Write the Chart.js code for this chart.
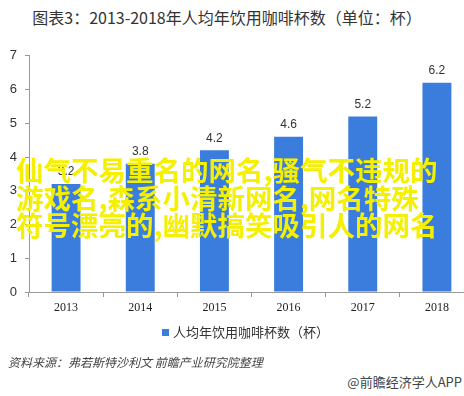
<!DOCTYPE html>
<html lang="zh">
<head>
    <meta charset="UTF-8">
    <title>人均年饮用咖啡杯数</title>
    <script src="https://cdn.jsdelivr.net/npm/chart.js"></script>
    <style>
        body {
            margin: 0;
            padding: 0;
            width: 464px;
            height: 396px;
            overflow: hidden;
            background: #fff;
            position: relative;
            font-family: "Noto Sans CJK SC", sans-serif;
        }
        .title {
            position: absolute;
            top: 5px;
            left: 0;
            width: 454px;
            text-align: center;
            font-size: 16px;
            color: #333;
        }
        #chart-box {
            position: absolute;
            left: 0;
            top: 40px;
            width: 500px;
            height: 310px;
        }
        .legend {
            position: absolute;
            top: 322px;
            left: 162px;
            font-size: 13px;
            color: #333;
        }
        .legend span {
            display: inline-block;
            width: 7px;
            height: 7px;
            background: #3b7ddd;
            margin-right: 4px;
            vertical-align: 1px;
        }
        .source {
            position: absolute;
            top: 353px;
            left: 8px;
            font-size: 12px;
            font-style: italic;
            color: #444;
        }
        .credit {
            position: absolute;
            top: 372px;
            right: 2px;
            font-size: 13px;
            color: #444;
        }
        .overlay {
            position: absolute;
            top: 156px;
            left: 16px;
            width: 448px;
            font-size: 27.5px;
            line-height: 27.5px;
            color: #f4f000;
            font-weight: bold;
            white-space: nowrap;
        }
    </style>
</head>
<body>

    <div class="title">图表3：2013-2018年人均年饮用咖啡杯数（单位：杯）</div>
    <div id="chart-box"><canvas id="coffeeChart"></canvas></div>
    <div class="legend"><span></span>人均年饮用咖啡杯数（杯）</div>
    <div class="source">资料来源：弗若斯特沙利文 前瞻产业研究院整理</div>
    <div class="credit">@前瞻经济学人APP</div>
    <div class="overlay">仙气不易重名的网名,骚气不违规的<br>游戏名,森系小清新网名,网名特殊<br>符号漂亮的,幽默搞笑吸引人的网名</div>

    <script>
        const years = ['2013', '2014', '2015', '2016', '2017', '2018'];
        const cups = [3.2, 3.8, 4.2, 4.6, 5.2, 6.2];
        const yTicks = [0, 1, 2, 3, 4, 5, 6, 7];

        // value labels above each bar
        const barLabels = {
            id: 'barLabels',
            afterDatasetsDraw(chart) {
                const ctx = chart.ctx;
                const meta = chart.getDatasetMeta(0);
                ctx.save();
                ctx.font = '12px "Liberation Sans", Arial, sans-serif';
                ctx.fillStyle = '#333';
                ctx.textAlign = 'center';
                ctx.textBaseline = 'bottom';
                meta.data.forEach((bar, i) => {
                    ctx.fillText(cups[i].toFixed(1), bar.x, bar.y - 6);
                });
                ctx.restore();
            }
        };

        const ctx = document.getElementById('coffeeChart').getContext('2d');
        new Chart(ctx, {
            type: 'bar',
            data: {
                labels: years,
                datasets: [{
                    label: '人均年饮用咖啡杯数（杯）',
                    data: cups,
                    backgroundColor: '#3b7ddd',
                    barPercentage: 0.39,
                    categoryPercentage: 1
                }]
            },
            options: {
                responsive: true,
                maintainAspectRatio: false,
                animation: false,
                layout: { padding: { top: 14, right: 26, bottom: 30, left: 0 } },
                plugins: {
                    legend: { display: false },
                    tooltip: { enabled: false }
                },
                scales: {
                    x: {
                        grid: {
                            display: true,
                            drawOnChartArea: false,
                            offset: true,
                            tickLength: 5,
                            color: '#999'
                        },
                        border: { color: '#999' },
                        ticks: {
                            color: '#222',
                            font: { family: '"Liberation Serif", serif', size: 12 },
                            padding: 4
                        },
                        afterFit(scale) { scale.height = 28; }
                    },
                    y: {
                        min: 0,
                        max: 7,
                        afterBuildTicks(scale) {
                            scale.ticks = yTicks.map(v => ({ value: v }));
                        },
                        grid: {
                            display: true,
                            drawOnChartArea: false,
                            tickLength: 4,
                            color: '#999'
                        },
                        border: { color: '#999' },
                        ticks: {
                            color: '#333',
                            font: { family: '"Liberation Sans", Arial, sans-serif', size: 13 },
                            padding: 8
                        },
                        afterFit(scale) { scale.width = 29; }
                    }
                }
            },
            plugins: [barLabels]
        });
    </script>

</body>
</html>
